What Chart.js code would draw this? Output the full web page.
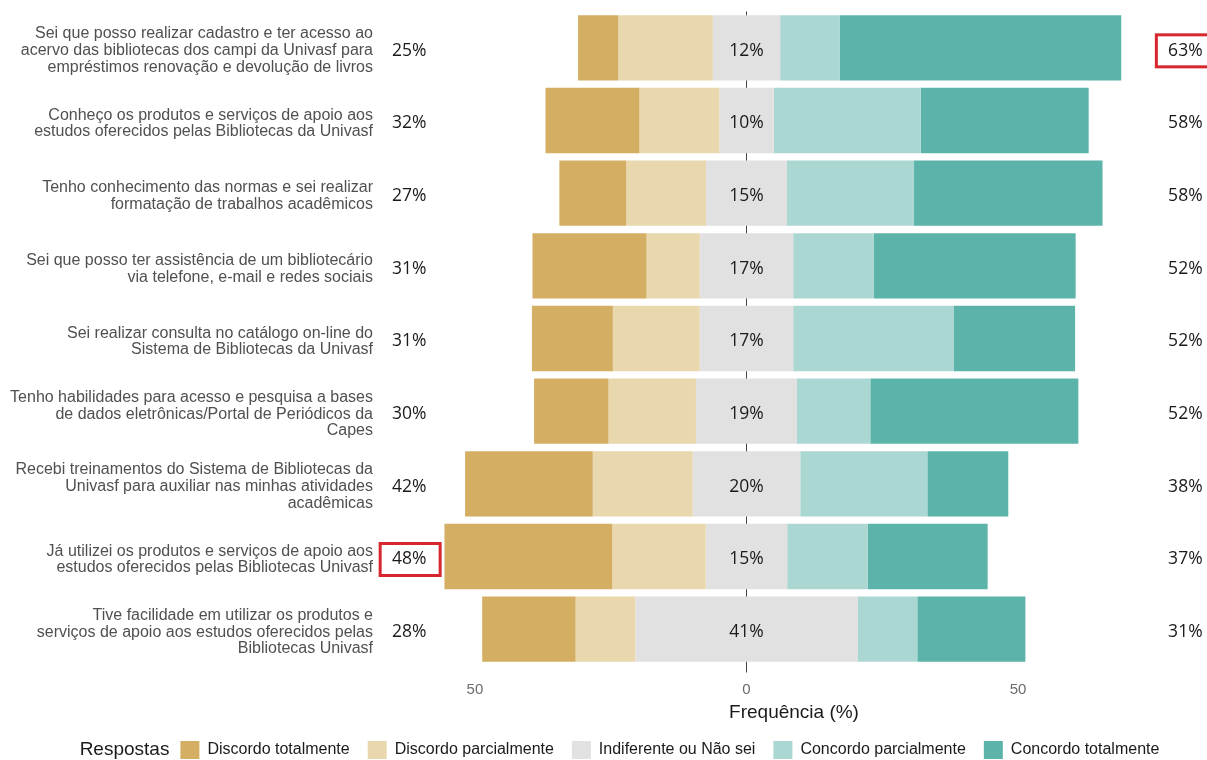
<!DOCTYPE html>
<html>
<head>
<meta charset="utf-8">
<script src="https://cdn.jsdelivr.net/npm/chart.js@4.4.1/dist/chart.umd.min.js"></script>
<style>
  html, body { margin: 0; padding: 0; background: #fff; }
  #wrap { width: 1207px; height: 760px; }
</style>
</head>
<body>
<div id="wrap"><canvas id="likertChart" width="1207" height="760"></canvas></div>
<script>
// statements (top to bottom)
const categories = [
  ['Sei que posso realizar cadastro e ter acesso ao', 'acervo das bibliotecas dos campi da Univasf para', 'empréstimos renovação e devolução de livros'],
  ['Conheço os produtos e serviços de apoio aos', 'estudos oferecidos pelas Bibliotecas da Univasf'],
  ['Tenho conhecimento das normas e sei realizar', 'formatação de trabalhos acadêmicos'],
  ['Sei que posso ter assistência de um bibliotecário', 'via telefone, e-mail e redes sociais'],
  ['Sei realizar consulta no catálogo on-line do', 'Sistema de Bibliotecas da Univasf'],
  ['Tenho habilidades para acesso e pesquisa a bases', 'de dados eletrônicas/Portal de Periódicos da', 'Capes'],
  ['Recebi treinamentos do Sistema de Bibliotecas da', 'Univasf para auxiliar nas minhas atividades', 'acadêmicas'],
  ['Já utilizei os produtos e serviços de apoio aos', 'estudos oferecidos pelas Bibliotecas Univasf'],
  ['Tive facilidade em utilizar os produtos e', 'serviços de apoio aos estudos oferecidos pelas', 'Bibliotecas Univasf']
];

// answer percentages per statement
const disTot = [7.4, 17.3, 12.3, 21.0, 14.9, 13.7, 23.5, 30.9, 17.2];
const disPar = [17.4, 14.7, 14.7, 9.8, 16.0, 16.1, 18.4, 17.2, 11.0];
const neutro = [12.4, 10.0, 14.9, 17.2, 17.2, 18.6, 19.8, 15.0, 40.9];
const conPar = [11.0, 27.1, 23.4, 14.8, 29.6, 13.5, 23.4, 14.8, 11.0];
const conTot = [51.8, 30.9, 34.7, 37.2, 22.3, 38.3, 14.9, 22.1, 19.9];

const answerLabels = ['Discordo totalmente', 'Discordo parcialmente', 'Indiferente ou Não sei', 'Concordo parcialmente', 'Concordo totalmente'];
const answerColors = ['#D4AE62', '#E9D7AD', '#E1E1E1', '#ABD7D3', '#5BB3A9'];
const xTicks = [-50, 0, 50];

// the two percentages framed in red in the original
const highlights = [{row: 0, side: 'right'}, {row: 7, side: 'left'}];

const LEFT_LABEL_X = -62.1;
const RIGHT_LABEL_X = 80.8;

// floating bar ranges, centred on the neutral answer
const ranges = categories.map((c, i) => {
  const h = neutro[i] / 2;
  return {
    dt: [-(h + disPar[i] + disTot[i]), -(h + disPar[i])],
    dp: [-(h + disPar[i]), -h],
    n: [-h, h],
    cp: [h, h + conPar[i]],
    ct: [h + conPar[i], h + conPar[i] + conTot[i]]
  };
});
const keys = ['dt', 'dp', 'n', 'cp', 'ct'];

const datasets = keys.map((k, j) => ({
  label: answerLabels[j],
  data: ranges.map(r => r[k]),
  backgroundColor: answerColors[j],
  borderWidth: 0,
  grouped: false,
  categoryPercentage: 0.9,
  barPercentage: 1
}));

// percentage labels + red frames
const pctLabels = {
  id: 'pctLabels',
  afterDatasetsDraw(chart) {
    const {ctx, scales: {x, y}} = chart;
    ctx.save();
    ctx.font = '17.5px "Open Sans"';
    ctx.fillStyle = '#1a1a1a';
    ctx.textAlign = 'center';
    ctx.textBaseline = 'middle';
    categories.forEach((c, i) => {
      const py = y.getPixelForValue(i) + 3;
      const txt = {
        left: Math.round(disTot[i] + disPar[i]) + '%',
        mid: Math.round(neutro[i]) + '%',
        right: Math.round(conPar[i] + conTot[i]) + '%'
      };
      ctx.fillText(txt.left, x.getPixelForValue(LEFT_LABEL_X), py);
      ctx.fillText(txt.mid, x.getPixelForValue(0), py);
      ctx.fillText(txt.right, x.getPixelForValue(RIGHT_LABEL_X), py);
    });
    ctx.strokeStyle = '#D7262E';
    ctx.lineWidth = 3;
    highlights.forEach(h => {
      const px = x.getPixelForValue(h.side === 'left' ? LEFT_LABEL_X : RIGHT_LABEL_X);
      const py = y.getPixelForValue(h.row) + 3;
      ctx.strokeRect(px - 29, py - 16, 60, 32);
    });
    ctx.restore();
  }
};

// bottom legend with the "Respostas" title inline
const inlineLegend = {
  id: 'inlineLegend',
  afterDraw(chart) {
    const ctx = chart.ctx;
    const cy = 750;
    const boxW = 19, boxH = 18, boxGap = 8, itemGap = 18, titleGap = 11;
    ctx.save();
    ctx.textBaseline = 'middle';
    ctx.textAlign = 'left';
    ctx.font = '19px "Liberation Sans", Arial, sans-serif';
    const titleW = ctx.measureText('Respostas').width;
    ctx.font = '16px "Liberation Sans", Arial, sans-serif';
    const items = chart.data.datasets.map(ds => ({text: ds.label, color: ds.backgroundColor, w: ctx.measureText(ds.label).width}));
    let total = titleW + titleGap;
    items.forEach((it, k) => { total += boxW + boxGap + it.w + (k < items.length - 1 ? itemGap : 0); });
    let cx = 619.5 - total / 2;
    ctx.fillStyle = '#1a1a1a';
    ctx.font = '19px "Liberation Sans", Arial, sans-serif';
    ctx.fillText('Respostas', cx, cy);
    cx += titleW + titleGap;
    ctx.font = '16px "Liberation Sans", Arial, sans-serif';
    items.forEach(it => {
      ctx.fillStyle = it.color;
      ctx.fillRect(cx, cy - boxH / 2, boxW, boxH);
      cx += boxW + boxGap;
      ctx.fillStyle = '#1a1a1a';
      ctx.fillText(it.text, cx, cy);
      cx += it.w + itemGap;
    });
    ctx.restore();
  }
};

new Chart(document.getElementById('likertChart').getContext('2d'), {
  type: 'bar',
  data: { labels: categories, datasets: datasets },
  options: {
    indexAxis: 'y',
    responsive: false,
    animation: false,
    layout: { padding: { top: 11.5, right: 1, bottom: 35.7, left: 0 } },
    plugins: { legend: { display: false }, tooltip: { enabled: false } },
    scales: {
      x: {
        type: 'linear',
        min: -67.1,
        max: 84.6,
        afterBuildTicks: scale => { scale.ticks = xTicks.map(v => ({value: v})); },
        afterFit: scale => { scale.paddingLeft = 0; scale.paddingRight = 0; },
        grid: {
          color: c => (c.tick && c.tick.value === 0) ? '#444444' : 'rgba(0,0,0,0)',
          lineWidth: 1,
          tickLength: 7
        },
        border: { display: false },
        ticks: {
          padding: 8.5,
          color: '#6b6b6b',
          font: { family: '"Liberation Sans", Arial, sans-serif', size: 15 },
          callback: v => String(Math.abs(v))
        },
        title: {
          display: true,
          text: 'Frequência (%)',
          color: '#1a1a1a',
          font: { family: '"Liberation Sans", Arial, sans-serif', size: 19 },
          padding: { top: -6, bottom: 0 }
        }
      },
      y: {
        type: 'category',
        grid: { display: false, drawTicks: false },
        border: { display: false },
        afterFit: scale => { scale.width = 382; scale.paddingTop = 0; scale.paddingBottom = 0; },
        ticks: {
          padding: 9,
          labelOffset: 3,
          color: '#505050',
          font: { family: '"Liberation Sans", Arial, sans-serif', size: 16, lineHeight: 1.05 }
        }
      }
    }
  },
  plugins: [pctLabels, inlineLegend]
});
</script>
</body>
</html>
